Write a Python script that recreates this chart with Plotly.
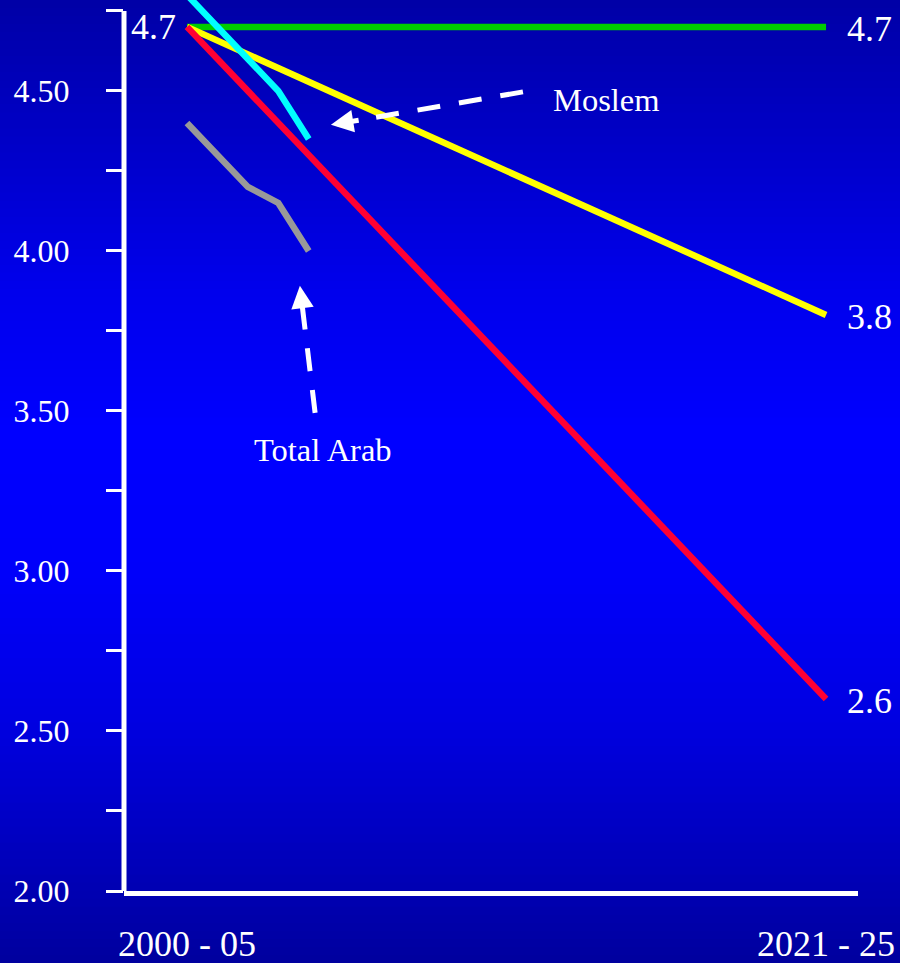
import plotly.graph_objects as go

# ---------------- data ----------------
categories = ["2000 - 05", "2021 - 25"]
category_years = [2000, 2021]
high_variant = [4.7, 4.7]
medium_variant = [4.7, 3.8]
low_variant = [4.7, 2.6]

observed_years = [2000, 2002, 2003, 2004]
moslem = [4.8, 4.6, 4.5, 4.35]
total_arab = [4.4, 4.2, 4.15, 4.0]

y_ticks = [2.0, 2.25, 2.5, 2.75, 3.0, 3.25, 3.5, 3.75, 4.0, 4.25, 4.5, 4.75]
y_tick_labels = ["2.00", "", "2.50", "", "3.00", "", "3.50", "", "4.00", "", "4.50", ""]

end_labels = ["4.7", "3.8", "2.6"]
end_values = [4.7, 3.8, 2.6]
start_label = "4.7"
start_value = 4.7

# ---------------- layout constants ----------------
W, H = 900, 963
M_L, M_R, M_T, M_B = 124, 42, 0, 72
PLOT_W = W - M_L - M_R
PLOT_H = H - M_T - M_B
FONT = "Liberation Serif, Times New Roman, serif"
LW = 6.5

fig = go.Figure()

fig.add_trace(go.Scatter(x=category_years, y=high_variant, mode="lines",
                         line=dict(color="#00cc00", width=LW), hoverinfo="skip"))
fig.add_trace(go.Scatter(x=category_years, y=medium_variant, mode="lines",
                         line=dict(color="#ffff00", width=LW), hoverinfo="skip"))
fig.add_trace(go.Scatter(x=category_years, y=low_variant, mode="lines",
                         line=dict(color="#ff0033", width=LW), hoverinfo="skip"))
fig.add_trace(go.Scatter(x=observed_years, y=total_arab, mode="lines",
                         line=dict(color="#999999", width=LW), hoverinfo="skip"))
fig.add_trace(go.Scatter(x=observed_years, y=moslem, mode="lines",
                         line=dict(color="#00ffff", width=LW), hoverinfo="skip"))

# ---------------- background gradient ----------------
stops = [(0.0, 166), (0.15, 200), (0.3, 236), (0.45, 255), (0.6, 250),
         (0.75, 225), (0.9, 185), (1.0, 158)]


def blue_at(f):
    for (f0, b0), (f1, b1) in zip(stops[:-1], stops[1:]):
        if f0 <= f <= f1:
            t = (f - f0) / (f1 - f0)
            return b0 + (b1 - b0) * t
    return stops[-1][1]


def paper_y(p):
    return (H - M_B - p) / PLOT_H


shapes = []
n = 120
for i in range(n):
    p0 = i * H / n
    p1 = (i + 1) * H / n + 1.5
    f = (p0 + p1) / 2 / H
    b = int(round(blue_at(f)))
    shapes.append(dict(type="rect", xref="paper", yref="paper",
                       x0=-M_L / PLOT_W - 0.02, x1=1 + M_R / PLOT_W + 0.02,
                       y0=paper_y(min(p1, H + 2)), y1=paper_y(p0),
                       fillcolor=f"rgb(0,0,{b})", line=dict(width=0), layer="below"))

# y axis line (only up to the top tick)
shapes.append(dict(type="line", xref="paper", yref="y", x0=0, x1=0, y0=1.99, y1=4.75,
                   line=dict(color="white", width=5), layer="above"))

# dashed arrow shafts
shapes.append(dict(type="line", xref="x", yref="y", x0=2011.04, y0=4.497, x1=2005.69, y1=4.409,
                   line=dict(color="white", width=5, dash="23px,19px"), layer="above"))
shapes.append(dict(type="line", xref="x", yref="y", x0=2004.21, y0=3.494, x1=2003.78, y1=3.834,
                   line=dict(color="white", width=5, dash="23px,19px"), layer="above"))

annotations = []
for lab, v in zip(end_labels, end_values):
    annotations.append(dict(x=category_years[1], y=v, xref="x", yref="y", text=lab,
                            showarrow=False, xanchor="left", yanchor="middle", xshift=19,
                            yshift=-2, font=dict(family=FONT, size=36, color="white")))
annotations.append(dict(x=category_years[0], y=start_value, xref="x", yref="y", text=start_label,
                        showarrow=False, xanchor="right", yanchor="middle", xshift=-9,
                        font=dict(family=FONT, size=36, color="white")))
annotations.append(dict(x=2011.96, y=4.47, xref="x", yref="y", text="Moslem",
                        showarrow=False, xanchor="left", yanchor="middle",
                        font=dict(family=FONT, size=32.5, color="white")))
annotations.append(dict(x=2004.47, y=3.378, xref="x", yref="y", text="Total Arab",
                        showarrow=False, xanchor="center", yanchor="middle",
                        font=dict(family=FONT, size=32.5, color="white")))
# arrow heads
annotations.append(dict(x=2004.73, y=4.394, ax=2005.69, ay=4.409, xref="x", yref="y",
                        axref="x", ayref="y", text="", showarrow=True, arrowhead=2,
                        arrowwidth=5, arrowsize=0.9, arrowcolor="white"))
annotations.append(dict(x=2003.71, y=3.891, ax=2003.78, ay=3.834, xref="x", yref="y",
                        axref="x", ayref="y", text="", showarrow=True, arrowhead=2,
                        arrowwidth=5, arrowsize=0.9, arrowcolor="white"))

fig.update_layout(
    width=W, height=H,
    margin=dict(l=M_L, r=M_R, t=M_T, b=M_B, pad=0, autoexpand=False),
    paper_bgcolor="rgb(0,0,200)",
    plot_bgcolor="rgba(0,0,0,0)",
    showlegend=False,
    shapes=shapes,
    annotations=annotations,
    xaxis=dict(range=[1997.93, 2022.05], tickvals=category_years, ticktext=categories,
               showline=True, linecolor="white", linewidth=5, showgrid=False, zeroline=False,
               ticks="", tickfont=dict(family=FONT, size=36, color="white"),
               ticklabelstandoff=17, automargin=False, fixedrange=True),
    yaxis=dict(range=[2.0, 4.784], tickvals=y_ticks, ticktext=y_tick_labels,
               showline=False, showgrid=False, zeroline=False,
               ticks="outside", ticklen=17, tickwidth=3, tickcolor="white",
               tickfont=dict(family=FONT, size=32, color="white"),
               ticklabelstandoff=30, automargin=False, fixedrange=True),
)

fig.write_html(
    "out.html",
    config={"displayModeBar": False},
    post_script="document.body.style.margin='0';document.body.style.overflow='hidden';",
)
